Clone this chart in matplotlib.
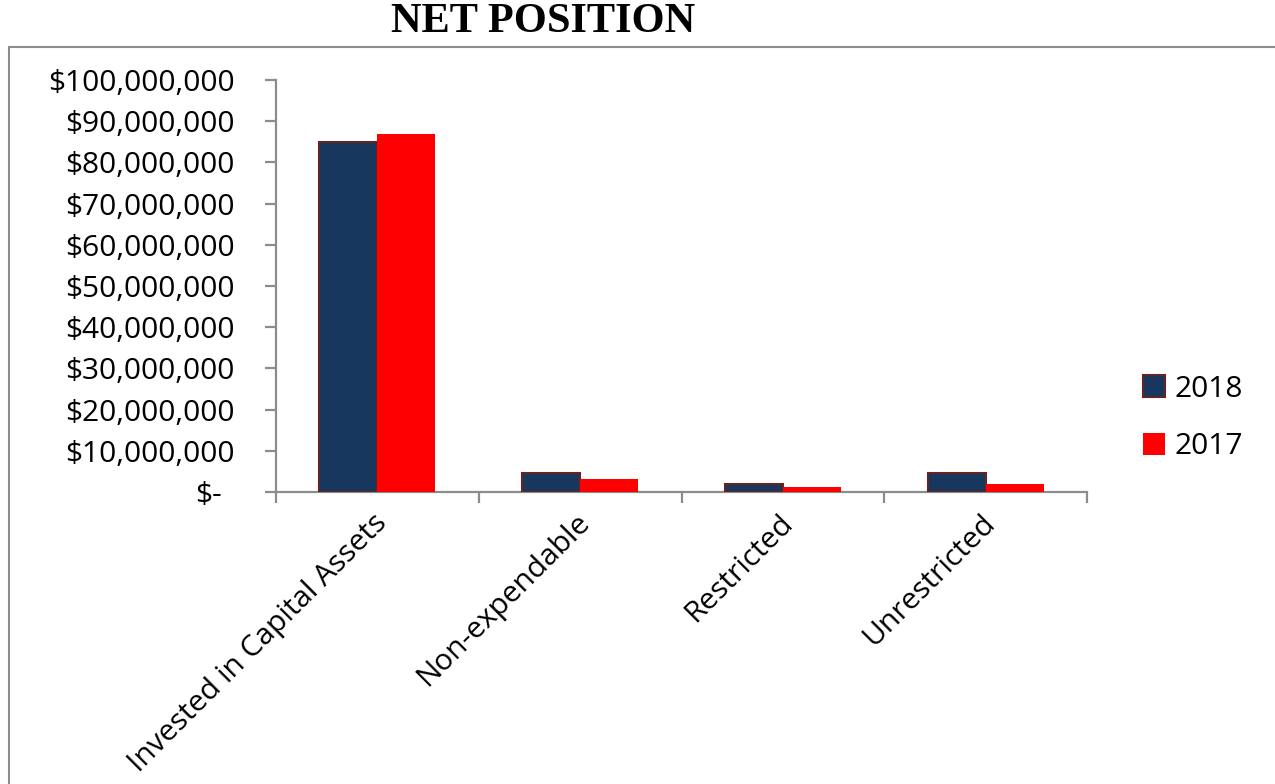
import matplotlib
matplotlib.use("Agg")
import matplotlib.pyplot as plt
import matplotlib.transforms as mtransforms
from matplotlib.patches import Rectangle
import numpy as np

categories = ["Invested in Capital Assets", "Non-expendable", "Restricted", "Unrestricted"]
series_names = ["2018", "2017"]
values_2018 = [85000000, 4500000, 2050000, 4500000]
values_2017 = [86900000, 3100000, 1150000, 1900000]
yticks = [0, 10000000, 20000000, 30000000, 40000000, 50000000,
          60000000, 70000000, 80000000, 90000000, 100000000]
ytick_labels = ["$-", "$10,000,000", "$20,000,000", "$30,000,000", "$40,000,000",
                "$50,000,000", "$60,000,000", "$70,000,000", "$80,000,000",
                "$90,000,000", "$100,000,000"]

FONT = "Open Sans"
FS = 21.5
W, H = 1275, 784
fig = plt.figure(figsize=(W / 100, H / 100), dpi=100)

# outer chart border (extends beyond the image on right and bottom)
fig.patches.append(Rectangle((9 / W, -0.1), 1.2, 1 - 47 / H + 0.1,
                             transform=fig.transFigure, fill=False,
                             edgecolor="#8c8c8c", linewidth=1.5))

ax = fig.add_axes([276 / W, 1 - 492 / H, (1087 - 276) / W, (492 - 80) / H])

x = np.arange(len(categories))
bw = 0.286
ax.bar(x - bw / 2, values_2018, width=bw, color="#17375E", edgecolor="#632523",
       linewidth=1.5, label=series_names[0], zorder=3)
ax.bar(x + bw / 2, values_2017, width=bw, color="#FF0000", edgecolor="none",
       label=series_names[1], zorder=3)

ax.set_xlim(-0.5, len(categories) - 0.5)
ax.set_ylim(0, 100000000)

for s in ["top", "right"]:
    ax.spines[s].set_visible(False)
for s in ["left", "bottom"]:
    ax.spines[s].set_color("#8c8c8c")
    ax.spines[s].set_linewidth(1.6)

ax.set_yticks(yticks)
ax.set_yticklabels(ytick_labels, fontsize=FS, fontfamily=FONT)
ax.tick_params(axis="y", direction="out", length=8, width=1.6, color="#8c8c8c", pad=22)

ax.set_xticks(np.arange(-0.5, len(categories), 1.0))
ax.set_xticklabels([])
ax.tick_params(axis="x", which="major", direction="out", length=8, width=1.6, color="#8c8c8c")
ax.set_xticks(x, minor=True)
ax.set_xticklabels(categories, minor=True, fontsize=FS, fontfamily=FONT,
                   rotation=45, ha="right", va="top", rotation_mode="anchor")
ax.tick_params(axis="x", which="minor", length=0, pad=14)

shift = mtransforms.ScaledTranslation(-5 / 100, 3 / 100, fig.dpi_scale_trans)
for t in ax.get_xticklabels(minor=True):
    t.set_transform(t.get_transform() + shift)

# accounting-style alignment of "$-"
lbl = ax.get_yticklabels()[0]
lbl.set_transform(lbl.get_transform() + mtransforms.ScaledTranslation(-13 / 100, 0, fig.dpi_scale_trans))

fig.text(543 / W, 1 - 22 / H, "NET POSITION", ha="center", va="center",
         fontsize=30.5, fontweight="bold", fontfamily="Liberation Serif")

leg = fig.legend(loc="center left", bbox_to_anchor=(1116 / W, 1 - 418 / H),
                 frameon=False, prop={"family": FONT, "size": FS},
                 handlelength=0.75, handleheight=0.75, handletextpad=0.3,
                 labelspacing=0.95)

fig.savefig("out.png", dpi=100)
